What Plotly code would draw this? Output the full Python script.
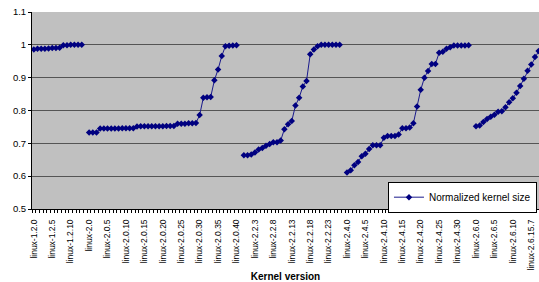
import plotly.graph_objects as go

# Normalized kernel size per release series
v12 = [0.986, 0.988, 0.988, 0.988, 0.989, 0.990, 0.990, 0.991, 0.999, 0.999,
       1.0, 1.0, 1.0, 1.0]
v20 = [0.733, 0.733, 0.733,
       0.745, 0.745, 0.745, 0.745, 0.745, 0.745, 0.746, 0.746, 0.746, 0.746,
       0.751, 0.752, 0.752, 0.752, 0.752, 0.752, 0.752, 0.752, 0.753, 0.753, 0.753,
       0.760, 0.760, 0.760, 0.761, 0.761, 0.762,
       0.786, 0.839, 0.840, 0.841, 0.892, 0.925, 0.966, 0.996, 0.997, 0.998, 0.999]
v22 = [0.664, 0.664, 0.666, 0.672, 0.681, 0.686, 0.693, 0.698, 0.703, 0.703,
       0.709, 0.743, 0.758, 0.768, 0.815, 0.839, 0.873, 0.890, 0.971, 0.986,
       0.996, 1.0, 1.0, 1.0, 1.0, 1.0, 1.0]
v24 = [0.611, 0.618, 0.633, 0.643, 0.661, 0.668, 0.683, 0.694, 0.694, 0.694,
       0.717, 0.722, 0.722, 0.722, 0.727, 0.746, 0.746, 0.748, 0.761, 0.812,
       0.863, 0.900, 0.920, 0.942, 0.942, 0.976, 0.979, 0.988, 0.993, 0.998,
       0.998, 0.998, 0.998, 0.999]
v26 = [0.752, 0.754, 0.765, 0.774, 0.781, 0.787, 0.796, 0.798, 0.810, 0.825,
       0.837, 0.854, 0.875, 0.897, 0.921, 0.940, 0.963, 0.981]

# Version labels per series
l12 = ["linux-1.2.%d" % i for i in range(14)]
l20 = ["linux-2.0"] + ["linux-2.0.%d" % i for i in range(1, 41)]
l22 = ["linux-2.2.%d" % i for i in range(27)]
l24 = ["linux-2.4.%d" % i for i in range(34)]
l26 = ["linux-2.6.%d" % i for i in range(15)] + ["linux-2.6.15.7", "linux-2.6.16", "linux-2.6.17"]

series_vals = [v12, v20, v22, v24, v26]
series_labels = [l12, l20, l22, l24, l26]

labels, values = [], []
for k, (vals, labs) in enumerate(zip(series_vals, series_labels)):
    labels += labs
    values += vals
    if k < len(series_vals) - 1:
        labels.append("")
        values.append(None)

idx = list(range(len(labels)))
tickvals = idx[::5]
ticktext = labels[::5]

font_family = "Liberation Sans, Arial, sans-serif"

fig = go.Figure()
fig.add_trace(go.Scatter(
    x=idx, y=values, mode="lines+markers", name="Normalized kernel size",
    connectgaps=False,
    line=dict(color="#1a1a8c", width=1),
    marker=dict(symbol="diamond", size=5, color="#000080"),
))

fig.update_layout(
    width=539, height=282,
    margin=dict(l=32, r=0, t=12, b=73),
    paper_bgcolor="white",
    plot_bgcolor="#C0C0C0",
    font=dict(family=font_family, color="black", size=10),
    showlegend=True,
    legend=dict(x=0.996, xanchor="right", y=0.06, yanchor="middle",
                bgcolor="white", bordercolor="black", borderwidth=1,
                font=dict(size=10), itemwidth=30),
)
fig.update_xaxes(
    range=[-0.5, 137.1],
    tickmode="array", tickvals=tickvals, ticktext=ticktext,
    tickangle=-90, tickfont=dict(size=8.5), ticklabelstandoff=6,
    ticks="", showgrid=False, zeroline=False,
    showline=True, linecolor="black", linewidth=1,
    minor=dict(tickmode="linear", tick0=-0.5, dtick=1, ticks="outside",
               ticklen=3, tickcolor="black", showgrid=False),
    title=dict(text="<b>Kernel version</b>", font=dict(size=10), standoff=6),
    automargin=False,
)
fig.update_yaxes(
    range=[0.5, 1.1], dtick=0.1, tick0=0.5,
    showgrid=True, gridcolor="#555555", gridwidth=1,
    zeroline=False, showline=True, linecolor="black", linewidth=1,
    ticks="outside", ticklen=3, tickcolor="black",
    tickfont=dict(size=9.5),
    automargin=False,
)

fig.write_html("out.html",
               config={"displayModeBar": False},
               post_script="document.body.style.margin='0';document.body.style.overflow='hidden';")
